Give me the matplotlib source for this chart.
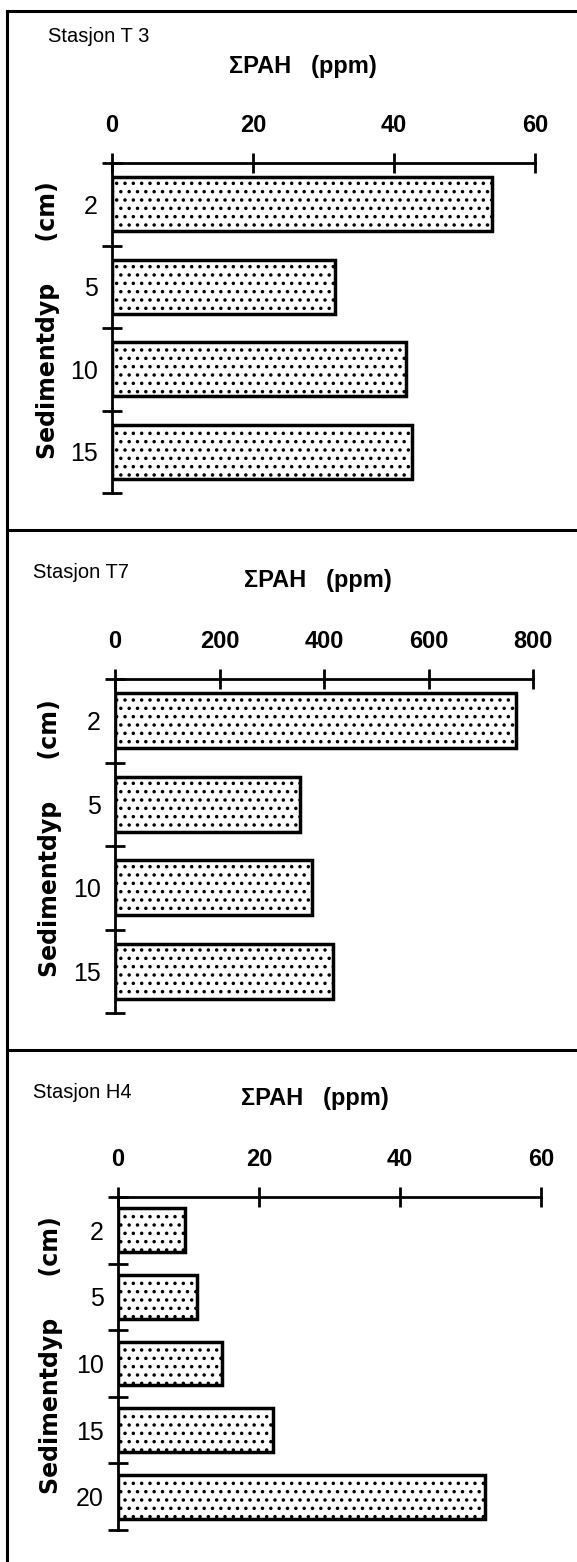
import matplotlib
matplotlib.use('Agg')
import matplotlib.pyplot as plt
from matplotlib.lines import Line2D
import numpy as np

W, H = 577, 1562

# data lest av figuren
stasjoner = ["Stasjon T 3", "Stasjon T7", "Stasjon H4"]
dyp_t3 = ["2", "5", "10", "15"]
pah_t3 = [53.9, 31.6, 41.7, 42.6]
dyp_t7 = ["2", "5", "10", "15"]
pah_t7 = [767, 354, 377, 417]
dyp_h4 = ["2", "5", "10", "15", "20"]
pah_h4 = [9.5, 11.2, 14.8, 22.0, 52.0]
akse_t3 = [0, 20, 40, 60]
akse_t7 = [0, 200, 400, 600, 800]
akse_h4 = [0, 20, 40, 60]

SMAL = ['Liberation Sans Narrow', 'Liberation Sans', 'DejaVu Sans']
plt.rcParams['font.family'] = SMAL
plt.rcParams['hatch.linewidth'] = 1.3

# plassering i piksler: x0, x1, ytopp, ybunn, stasjon (x, y), tittel (x, y), ylabel x
paneler = [
    (dyp_t3, pah_t3, akse_t3, (112, 535, 163, 493), (48, 37), (303, 67), 48),
    (dyp_t7, pah_t7, akse_t7, (115, 533, 679, 1013), (33, 573), (318, 580), 50),
    (dyp_h4, pah_h4, akse_h4, (118, 541, 1197, 1530), (33, 1093), (315, 1098), 51),
]

fig = plt.figure(figsize=(W / 100, H / 100), dpi=100)

def fx(x):
    return x / W

def fy(y):
    return 1 - y / H

for i, (dyp, pah, akse, (x0, x1, yt, yb), st_xy, ti_xy, yl_x) in enumerate(paneler):
    ax = fig.add_axes([fx(x0), fy(yb), (x1 - x0) / W, (yb - yt) / H])
    n = len(dyp)
    pos = np.arange(n) + 0.5
    ax.barh(pos, pah, height=0.66, left=0, color='white', edgecolor='black',
            linewidth=2.5, hatch='..')
    ax.set_xlim(akse[0], akse[-1])
    ax.set_ylim(n, 0)

    ax.spines[['right', 'bottom']].set_visible(False)
    ax.spines['top'].set_linewidth(2)
    ax.spines['left'].set_linewidth(2)

    ax.xaxis.set_ticks_position('top')
    ax.set_xticks(akse)
    ax.set_xticklabels([str(v) for v in akse], fontweight='bold')
    ax.tick_params(axis='x', which='major', direction='inout', length=14, width=2,
                   pad=12, labelsize=17, top=True, bottom=False,
                   labeltop=True, labelbottom=False)

    ax.set_yticks(pos)
    ax.set_yticklabels(dyp)
    ax.set_yticks(np.arange(n + 1), minor=True)
    ax.tick_params(axis='y', which='major', length=0, pad=10, labelsize=18)
    ax.tick_params(axis='y', which='minor', direction='inout', length=14, width=2)

    fig.text(fx(st_xy[0]), fy(st_xy[1]), stasjoner[i], fontsize=14.5,
             ha='left', va='center')
    fig.text(fx(ti_xy[0]), fy(ti_xy[1]), "\u03a3PAH   (ppm)", fontsize=17,
             fontweight='bold', ha='center', va='center')
    fig.text(fx(yl_x), fy((yt + yb) / 2 - 8), "Sedimentdyp     (cm)",
             family='DejaVu Sans', fontweight='bold', fontsize=17,
             rotation=90, ha='center', va='center')

# rammer
lw = 2.2
fig.add_artist(Line2D([fx(7), 1], [fy(11), fy(11)], transform=fig.transFigure,
                      color='black', lw=lw))
fig.add_artist(Line2D([fx(7), fx(7)], [fy(11), 0], transform=fig.transFigure,
                      color='black', lw=lw))
for ys in (530, 1050):
    fig.add_artist(Line2D([fx(7), 1], [fy(ys), fy(ys)], transform=fig.transFigure,
                          color='black', lw=lw))

fig.savefig('out.png', dpi=100, facecolor='white')
plt.close()
